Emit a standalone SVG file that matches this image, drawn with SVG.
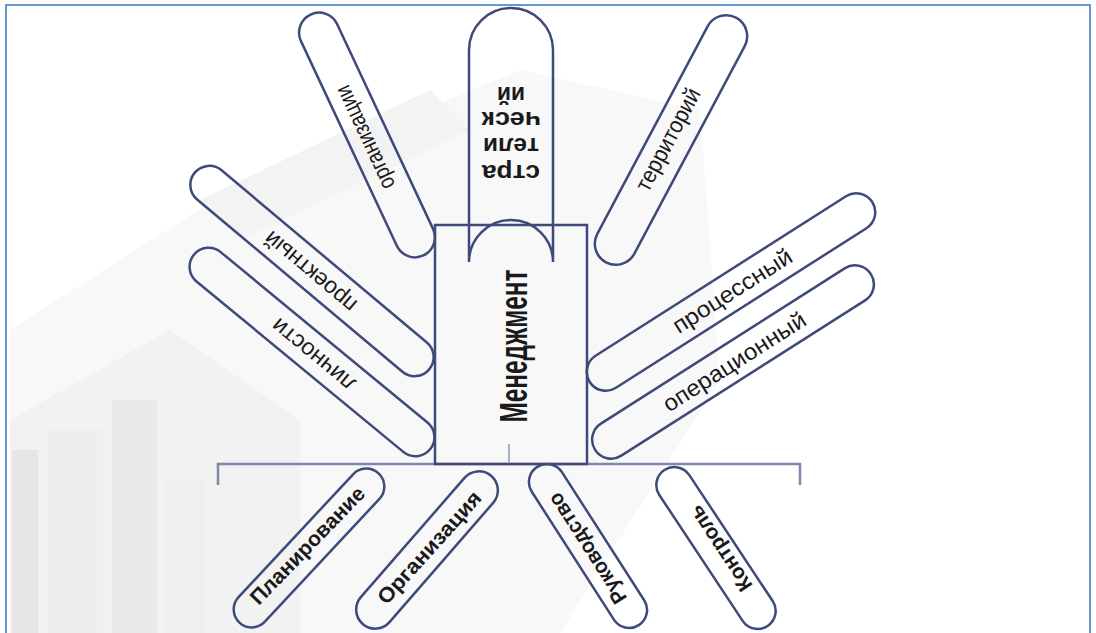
<svg xmlns="http://www.w3.org/2000/svg" width="1096" height="633" viewBox="0 0 1096 633">
<defs>
<style>
.pill{fill:none;stroke:#3e4a7a;stroke-width:2.5}
.box{fill:none;stroke:#3e4a7a;stroke-width:2.5}
.lbl{font-family:"Liberation Sans",Arial,sans-serif;font-size:23px;fill:#1a1a1a;text-anchor:middle}
.b{font-weight:bold;font-size:21px}
.br{fill:none;stroke:#7e89aa;stroke-width:2.5}
.wm{stroke:none}
</style>
</defs>
<rect x="0" y="0" width="1096" height="633" fill="#ffffff"/>
<g id="watermark">
<polygon class="wm" fill="#f8f8f8" points="10,330 230,190 520,70 700,110 720,380 560,633 10,633"/>
<polygon class="wm" fill="#f2f2f2" points="10,420 170,330 300,420 300,633 10,633"/>
<rect class="wm" x="12" y="450" width="26" height="183" fill="#e6e6e6"/>
<rect class="wm" x="48" y="430" width="55" height="203" fill="#eeeeee"/>
<rect class="wm" x="112" y="400" width="45" height="233" fill="#e9e9e9"/>
<rect class="wm" x="165" y="480" width="40" height="153" fill="#efefef"/>
<polygon class="wm" fill="#f3f3f3" points="200,200 430,90 470,130 240,240"/>
</g>
<rect id="frame" x="6" y="5" width="1084" height="640" fill="none" stroke="#6a96d2" stroke-width="2"/>
<g id="connectors">
<path class="br" d="M218,485 V464 H800 V485"/>
<path d="M509,444 V462" stroke="#a9b0c6" stroke-width="2" fill="none"/>
</g>
<g id="center">
<rect class="box" x="435" y="225" width="152" height="239"/>
<text class="lbl b" x="527" y="346" textLength="153" lengthAdjust="spacingAndGlyphs" style="font-size:38px" transform="rotate(-90,527,346)">Менеджмент</text>
</g>
<g id="finger-strategic">
<path class="pill" d="M469,262 V50 A42,42 0 0 1 553,50 V262 A42,42 0 0 0 469,262 Z"/>
<g transform="rotate(180,511,132)">
<text class="lbl b" style="font-size:23px" x="511" y="99" textLength="58" lengthAdjust="spacingAndGlyphs">стра</text>
<text class="lbl b" style="font-size:23px" x="511" y="126" textLength="56" lengthAdjust="spacingAndGlyphs">тели</text>
<text class="lbl b" style="font-size:23px" x="511" y="152" textLength="59" lengthAdjust="spacingAndGlyphs">ческ</text>
<text class="lbl b" style="font-size:23px" x="511" y="177" textLength="28" lengthAdjust="spacingAndGlyphs">ий</text>
</g>
</g>
<g id="finger-org">
<rect class="pill" x="-133" y="-20" width="266" height="40" rx="20" transform="translate(367,135) rotate(64.9)"/>
<text class="lbl" x="0" y="0" dy="0.28em" textLength="112" lengthAdjust="spacingAndGlyphs" transform="translate(366,137) rotate(-115.1)">организации</text>
</g>
<g id="finger-terr">
<rect class="pill" x="-138.5" y="-21" width="277" height="42" rx="21" transform="translate(671,140) rotate(-62)"/>
<text class="lbl" x="0" y="0" dy="0.28em" textLength="113" lengthAdjust="spacingAndGlyphs" transform="translate(669,140) rotate(-62)">территорий</text>
</g>
<g id="finger-proc">
<rect class="pill" x="-167.5" y="-19" width="335" height="38" rx="19" transform="translate(731,292) rotate(-32.5)"/>
<text class="lbl" x="0" y="0" dy="0.28em" textLength="137" lengthAdjust="spacingAndGlyphs" transform="translate(733,292) rotate(-32.5)">процессный</text>
</g>
<g id="finger-oper">
<rect class="pill" x="-163.5" y="-19" width="327" height="38" rx="19" transform="translate(733,362) rotate(-32.5)"/>
<text class="lbl" x="0" y="0" dy="0.28em" textLength="165" lengthAdjust="spacingAndGlyphs" transform="translate(735,363) rotate(-32.5)">операционный</text>
</g>
<g id="finger-proekt">
<rect class="pill" x="-153" y="-19" width="306" height="38" rx="19" transform="translate(312,271) rotate(40)"/>
<text class="lbl" x="0" y="0" dy="0.28em" textLength="113" lengthAdjust="spacingAndGlyphs" transform="translate(311,271) rotate(-140)">проектный</text>
</g>
<g id="finger-lichn">
<rect class="pill" x="-153" y="-19" width="306" height="38" rx="19" transform="translate(312,352) rotate(39.5)"/>
<text class="lbl" x="0" y="0" dy="0.28em" textLength="101" lengthAdjust="spacingAndGlyphs" transform="translate(314,354) rotate(-140.5)">личности</text>
</g>
<g id="func-plan">
<rect class="pill" x="-102" y="-18" width="204" height="36" rx="18" transform="translate(309,548) rotate(-47)"/>
<text class="lbl b" x="0" y="0" dy="0.3em" textLength="155" lengthAdjust="spacingAndGlyphs" transform="translate(308,546) rotate(-46)">Планирование</text>
</g>
<g id="func-orgz">
<rect class="pill" x="-98" y="-19" width="196" height="38" rx="19" transform="translate(427,550) rotate(-49)"/>
<text class="lbl b" x="0" y="0" dy="0.3em" textLength="144" lengthAdjust="spacingAndGlyphs" transform="translate(430,548) rotate(-48)">Организация</text>
</g>
<g id="func-ruk">
<rect class="pill" x="-94" y="-18" width="188" height="36" rx="18" transform="translate(588,546) rotate(57.3)"/>
<text class="lbl b" x="0" y="0" dy="0.3em" textLength="127" lengthAdjust="spacingAndGlyphs" transform="translate(588,548) rotate(-122.7)">Руководство</text>
</g>
<g id="func-kontr">
<rect class="pill" x="-93.5" y="-18" width="187" height="36" rx="18" transform="translate(716,548) rotate(56.5)"/>
<text class="lbl b" x="0" y="0" dy="0.3em" textLength="98" lengthAdjust="spacingAndGlyphs" transform="translate(721,548) rotate(-123.5)">Контроль</text>
</g>
</svg>
